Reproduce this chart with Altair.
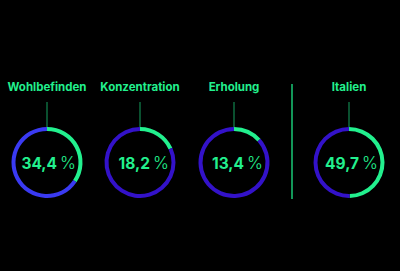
import math
import altair as alt
import pandas as pd

# ---- data ----
categories = ["Wohlbefinden", "Konzentration", "Erholung", "Italien"]
values = [34.4, 18.2, 13.4, 49.7]
value_labels = ["34,4", "18,2", "13,4", "49,7"]

# ---- layout / style ----
centers_x = [47, 140, 234, 349]
rest_colors = ["#3a3af2", "#3312c9", "#3312c9", "#3312c9"]
GREEN = "#22f08e"
LINE_GREEN = "#14a05e"
BG = "#000000"

seg_rows = []
for cat, v, cx, rc in zip(categories, values, centers_x, rest_colors):
    seg_rows.append({"category": cat, "start": 0, "end": v, "colour": GREEN, "cx": cx})
    seg_rows.append({"category": cat, "start": v, "end": 100, "colour": rc, "cx": cx})
seg = pd.DataFrame(seg_rows)

lab = pd.DataFrame({"category": categories, "label": value_labels, "pct": ["%"] * 4, "cx": centers_x})

X = alt.X("cx:Q", scale=None, axis=None, stack=None)

rings = alt.Chart(seg).mark_arc(radius=35.5, radius2=31.5).encode(
    x=X,
    y=alt.value(162.5),
    theta=alt.Theta("start:Q", scale=alt.Scale(domain=[0, 100], range=[0, 2 * math.pi]), stack=None),
    theta2="end:Q",
    color=alt.Color("colour:N", scale=None),
)

titles = alt.Chart(lab).mark_text(
    font="Inter", fontWeight="bold", fontSize=11.5, color=GREEN, baseline="middle", align="center"
).encode(x=X, y=alt.value(88), text="category:N")

connectors = alt.Chart(lab).mark_rule(color=LINE_GREEN, strokeWidth=1).encode(
    x=X, y=alt.value(102), y2=alt.value(127)
)

numbers = alt.Chart(lab).mark_text(
    font="Inter", fontWeight="bold", fontSize=15.5, color=GREEN, baseline="middle", align="right", dx=10
).encode(x=X, y=alt.value(164), text="label:N")

percents = alt.Chart(lab).mark_text(
    font="Inter", fontWeight=300, fontSize=17, color=GREEN, baseline="middle", align="left", dx=13
).encode(x=X, y=alt.value(164), text="pct:N")

divider = alt.Chart(lab).mark_rule(color=LINE_GREEN, strokeWidth=1).encode(
    x=alt.value(292), y=alt.value(84), y2=alt.value(199)
)

chart = alt.layer(rings, connectors, divider, titles, numbers, percents).properties(
    width=400, height=271, background=BG, padding=0, autosize="none"
).configure_view(stroke=None)

chart.save("out.html", embed_options={"renderer": "svg", "actions": False})
